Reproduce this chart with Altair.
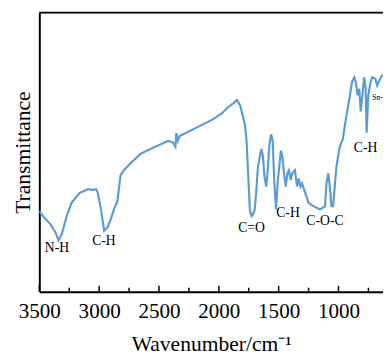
import altair as alt
import pandas as pd

# FTIR spectrum (wavenumber in cm-1, transmittance in arbitrary units)
wavenumber = [3500, 3462, 3408, 3367, 3339, 3312, 3271, 3230, 3162, 3093, 3052, 3025, 3012,
              2985, 2958, 2930, 2903, 2876, 2848, 2821, 2794, 2739, 2655, 2545, 2422, 2382,
              2363, 2355, 2342, 2327, 2191, 2054, 1972, 1932, 1896, 1878, 1850, 1823, 1782,
              1768, 1755, 1741, 1727, 1714, 1700, 1686, 1673, 1645, 1632, 1618, 1604, 1591,
              1577, 1563, 1550, 1536, 1522, 1509, 1481, 1468, 1455, 1441, 1427, 1414, 1400,
              1387, 1364, 1346, 1332, 1318, 1305, 1277, 1250, 1209, 1154, 1113, 1100, 1086,
              1072, 1059, 1045, 1031, 1018, 991, 964, 937, 909, 887, 868, 855, 841, 827, 814,
              800, 786, 773, 765, 751, 732, 718, 691, 677, 658, 636, 620]
transmittance = [82.3, 76, 69, 61, 52.3, 59, 77.3, 91, 101, 104.7, 104, 104.7, 101,
                 84, 62.3, 65.7, 74, 84, 92.3, 119, 124, 131, 140.7, 147.3, 154, 152.3,
                 148, 162, 154, 159, 167.3, 175.7, 182.3, 187.3, 191, 192.3, 195.7, 190.7, 170.7,
                 154, 120.7, 84, 77.3, 79, 84, 104, 127.3, 145.7, 139, 117.3, 107.3, 124,
                 150.7, 160.7, 154, 110.7, 84, 110.7, 144, 137.3, 120.7, 107.3, 120.7, 124, 114,
                 120.7, 124, 107.3, 115.7, 107.3, 110.7, 100.7, 90.7, 87.3, 84, 87.3, 110.7, 120.7,
                 107.3, 87.3, 87.3, 107.3, 127.3, 147.3, 155.7, 177.3, 197.3, 214, 219, 214, 200.7, 207.3, 184,
                 200.7, 219, 207.3, 162.3, 200.7, 214, 219, 217.3, 210.7, 215.7, 220.7, 221]

# Band assignments
band_text = ["N-H", "C-H", "C=O", "C-H", "C-O-C", "C-H"]
band_wn = [3353, 2960, 1727, 1422, 1113, 773]
band_t = [44, 52, 65, 80.5, 72.3, 146.7]

small_text = ["Sn-O"]
small_wn = [718]
small_t = [197.3]

major_ticks = [3500, 3000, 2500, 2000, 1500, 1000]
minor_ticks = [3250, 2750, 2250, 1750, 1250, 750]

W, H = 351, 285
FONT = "Liberation Serif"

spec_df = pd.DataFrame({"wn": wavenumber, "t": transmittance})
band_df = pd.DataFrame({"wn": band_wn, "t": band_t, "label": band_text})
small_df = pd.DataFrame({"wn": small_wn, "t": small_t, "label": small_text})
major_df = pd.DataFrame({"wn": major_ticks})
minor_df = pd.DataFrame({"wn": minor_ticks})

x_scale = alt.Scale(domain=[3500, 628], nice=False, zero=False)
y_scale = alt.Scale(domain=[0, 285], nice=False, zero=False)

x_axis = alt.Axis(values=major_ticks, format="d", title="Wavenumber/cm⁻¹", tickSize=0,
                  labelFont=FONT, labelFontSize=21.5, labelColor="black",
                  labelPadding=9, labelFlush=False,
                  titleFont=FONT, titleFontSize=22, titleFontWeight="normal",
                  titleColor="black", titlePadding=13,
                  domainColor="black", domainWidth=2, grid=False)
y_axis = alt.Axis(title="Transmittance", labels=False, ticks=False, grid=False,
                  titleFont=FONT, titleFontSize=22, titleFontWeight="normal",
                  titleColor="black", titlePadding=5,
                  domainColor="black", domainWidth=2)

line = alt.Chart(spec_df).mark_line(color="#5B9BD5", strokeWidth=2.2, clip=True).encode(
    x=alt.X("wn:Q", scale=x_scale, axis=x_axis),
    y=alt.Y("t:Q", scale=y_scale, axis=y_axis),
)

major = alt.Chart(major_df).mark_rule(color="black", strokeWidth=1.5).encode(
    x=alt.X("wn:Q", scale=x_scale, axis=x_axis),
    y=alt.value(H),
    y2=alt.value(H - 6),
)

minor = alt.Chart(minor_df).mark_rule(color="black", strokeWidth=1.5).encode(
    x=alt.X("wn:Q", scale=x_scale, axis=x_axis),
    y=alt.value(H),
    y2=alt.value(H - 4),
)

top_border = alt.Chart(pd.DataFrame({"a": [0]})).mark_rule(color="black", strokeWidth=2).encode(
    x=alt.value(0), x2=alt.value(W), y=alt.value(0)
)

bands = alt.Chart(band_df).mark_text(font=FONT, fontSize=14, color="black",
                                     baseline="middle", align="center").encode(
    x=alt.X("wn:Q", scale=x_scale, axis=x_axis),
    y=alt.Y("t:Q", scale=y_scale, axis=y_axis),
    text="label:N",
)

small = alt.Chart(small_df).mark_text(font=FONT, fontSize=8, color="black",
                                      baseline="middle", align="left", clip=True).encode(
    x=alt.X("wn:Q", scale=x_scale, axis=x_axis),
    y=alt.Y("t:Q", scale=y_scale, axis=y_axis),
    text="label:N",
)

chart = alt.layer(line, major, minor, top_border, bands, small).properties(
    width=W, height=H,
    autosize=alt.AutoSizeParams(type="none"),
    padding={"left": 32, "top": 1, "right": 0, "bottom": 62},
).configure_view(stroke=None).configure(background="white")

chart.save("out.html", embed_options={"renderer": "svg", "actions": False})
